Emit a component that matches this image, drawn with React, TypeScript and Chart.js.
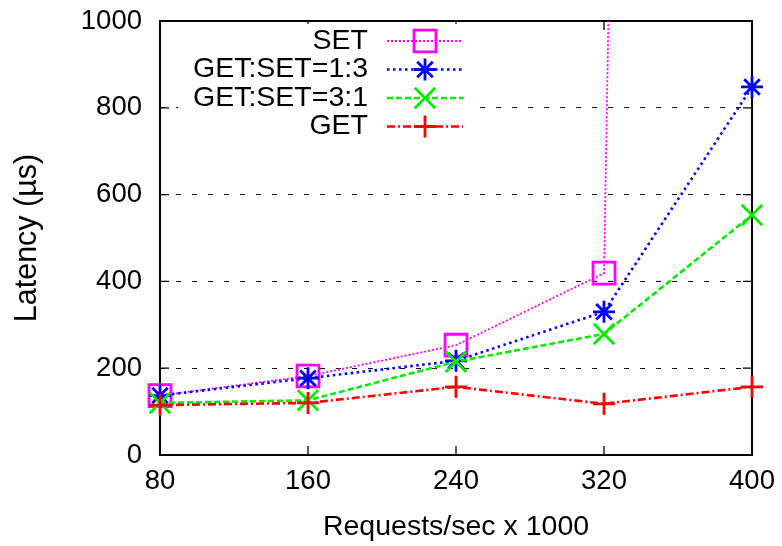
import React, { useEffect, useRef } from "react";
import { Chart, registerables } from "chart.js";
import { drawPoint } from "chart.js/helpers";

Chart.register(...registerables);

// ---- data ----
const requestsK = [80, 160, 240, 320, 400];
const seriesNames = ["SET", "GET:SET=1:3", "GET:SET=3:1", "GET"];
const setLatency = [137, 182, 253, 419, 20000];
const getSet13Latency = [137, 177, 217, 330, 848];
const getSet31Latency = [120, 126, 215, 279, 553];
const getLatency = [115, 120, 157, 118, 157];
const yTickValues = [0, 200, 400, 600, 800, 1000];

// ---- styles ----
const FONT = "'Liberation Sans', Arial, Helvetica, sans-serif";
const TICK_SIZE = 27.5;
const TITLE_SIZE = 28.5;
const YTITLE_SIZE = 30.5;
const LEGEND_SIZE = 28.5;
const MARK_WIDTH = 2.8;
const styles = [
  { color: "#ff00ff", dash: [2, 2], width: 1.8, point: "rect", radius: 15.5, order: 4 },
  { color: "#0000ff", dash: [2.5, 3.5], width: 2.6, point: "star", radius: 11, order: 3 },
  { color: "#00ee00", dash: [6, 3], width: 2.6, point: "crossRot", radius: 14.5, order: 2 },
  { color: "#ff0000", dash: [8, 3, 2, 3], width: 2.6, point: "cross", radius: 11, order: 1 },
];
const seriesValues = [setLatency, getSet13Latency, getSet31Latency, getLatency];

const framePlugin = {
  id: "gnuFrame",
  beforeDatasetsDraw(chart: any) {
    const { ctx, chartArea: a, scales } = chart;
    ctx.save();
    ctx.setLineDash([]);
    ctx.strokeStyle = "#000";
    ctx.lineWidth = 1.3;
    ctx.beginPath();
    for (const v of yTickValues) {
      const y = scales.y.getPixelForValue(v);
      ctx.moveTo(a.left, y);
      ctx.lineTo(a.left + 9, y);
      ctx.moveTo(a.right, y);
      ctx.lineTo(a.right - 9, y);
    }
    for (const v of requestsK) {
      const x = scales.x.getPixelForValue(v);
      ctx.moveTo(x, a.bottom);
      ctx.lineTo(x, a.bottom - 9);
      ctx.moveTo(x, a.top);
      ctx.lineTo(x, a.top + 9);
    }
    ctx.stroke();
    ctx.lineWidth = 2;
    ctx.strokeRect(a.left, a.top, a.right - a.left, a.bottom - a.top);
    ctx.restore();
  },
  afterDraw(chart: any) {
    const { ctx } = chart;
    ctx.save();
    ctx.fillStyle = "#fff";
    ctx.fillRect(178, 24, 300, 118);
    const textRight = 368;
    const lineStart = 387;
    const lineEnd = 463;
    const markX = 425;
    seriesNames.forEach((name, i) => {
      const s = styles[i];
      const y = 41 + i * 28.5;
      ctx.setLineDash([]);
      ctx.fillStyle = "#000";
      ctx.font = `${LEGEND_SIZE}px ${FONT}`;
      ctx.textAlign = "right";
      ctx.textBaseline = "middle";
      ctx.fillText(name, textRight, y);
      ctx.strokeStyle = s.color;
      ctx.lineWidth = s.width;
      ctx.setLineDash(s.dash);
      ctx.beginPath();
      ctx.moveTo(lineStart, y);
      ctx.lineTo(lineEnd, y);
      ctx.stroke();
      ctx.setLineDash([]);
      ctx.lineWidth = MARK_WIDTH;
      ctx.fillStyle = "rgba(0,0,0,0)";
      drawPoint(ctx, { pointStyle: s.point, radius: s.radius, borderWidth: MARK_WIDTH, rotation: 0 } as any, markX, y);
    });
    ctx.restore();
  },
};

export default function App() {
  const ref = useRef<HTMLCanvasElement>(null);
  useEffect(() => {
    if (!ref.current) return;
    const chart = new Chart(ref.current, {
      type: "line",
      data: {
        datasets: seriesNames.map((name, i) => ({
          label: name,
          data: requestsK.map((x, j) => ({ x, y: seriesValues[i][j] })),
          borderColor: styles[i].color,
          borderWidth: styles[i].width,
          borderDash: styles[i].dash,
          pointStyle: styles[i].point as any,
          pointRadius: styles[i].radius,
          pointBorderWidth: MARK_WIDTH,
          pointBorderColor: styles[i].color,
          pointBackgroundColor: "rgba(0,0,0,0)",
          tension: 0,
          fill: false,
          order: styles[i].order,
          clip: { left: 25, right: 30, top: 0, bottom: 25 } as any,
        })),
      },
      options: {
        responsive: false,
        animation: false,
        devicePixelRatio: 1,
        layout: { padding: { top: 21, right: 30, left: 0, bottom: 0 } },
        plugins: { legend: { display: false }, tooltip: { enabled: false } },
        scales: {
          x: {
            type: "linear",
            min: 80,
            max: 400,
            afterBuildTicks: (scale: any) => {
              scale.ticks = requestsK.map((v) => ({ value: v }));
            },
            afterFit: (scale: any) => {
              scale.height = 91;
              scale.paddingLeft = 0;
              scale.paddingRight = 0;
              scale.paddingTop = 0;
              scale.paddingBottom = 0;
            },
            grid: { display: false, drawTicks: false },
            border: { display: false },
            ticks: {
              color: "#000",
              font: { family: FONT, size: TICK_SIZE },
              padding: 10,
              maxRotation: 0,
              autoSkip: false,
              callback: (v: any) => String(v),
            },
            title: {
              display: true,
              text: "Requests/sec x 1000",
              color: "#000",
              font: { family: FONT, size: TITLE_SIZE },
              padding: { top: 0, bottom: 2 },
            },
          },
          y: {
            type: "linear",
            min: 0,
            max: 1000,
            afterBuildTicks: (scale: any) => {
              scale.ticks = yTickValues.map((v) => ({ value: v }));
            },
            afterFit: (scale: any) => {
              scale.width = 160;
              scale.paddingLeft = 0;
              scale.paddingRight = 0;
              scale.paddingTop = 0;
              scale.paddingBottom = 0;
            },
            grid: { color: "#000", lineWidth: 1, drawTicks: false },
            border: { display: false, dash: [5, 11] },
            ticks: {
              color: "#000",
              font: { family: FONT, size: TICK_SIZE },
              padding: 18,
              callback: (v: any) => String(v),
            },
            title: {
              display: true,
              text: "Latency (µs)",
              color: "#000",
              font: { family: FONT, size: YTITLE_SIZE },
              padding: { top: 9, bottom: 0 },
            },
          },
        },
      },
      plugins: [framePlugin],
    });
    return () => chart.destroy();
  }, []);
  return (
    <div style={{ position: "fixed", left: 0, top: 0, width: 782, height: 546, background: "#fff" }}>
      <canvas ref={ref} width={782} height={546} />
    </div>
  );
}
